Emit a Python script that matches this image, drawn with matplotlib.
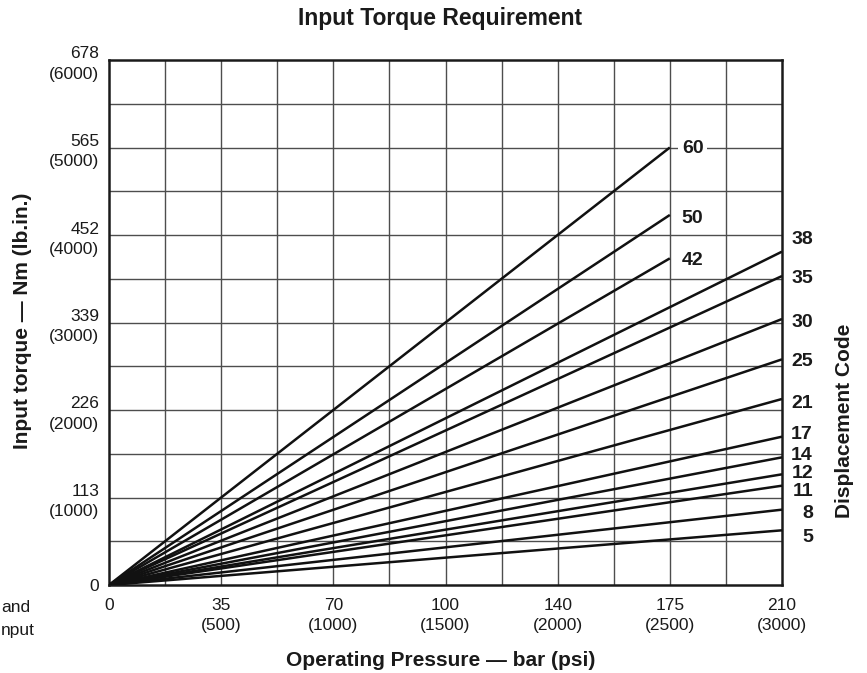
import matplotlib
matplotlib.use("Agg")
import matplotlib.pyplot as plt

# ---- data ----
codes = ["5", "8", "11", "12", "14", "17", "21", "25", "30", "35", "38", "42", "50", "60"]
end_pressure_psi = [3000, 3000, 3000, 3000, 3000, 3000, 3000, 3000, 3000, 3000, 3000, 2500, 2500, 2500]
end_torque_lbin = [625, 861, 1135, 1265, 1459, 1695, 2126, 2579, 3040, 3531, 3810, 3733, 4229, 5000]

x_tick_vals = [0, 500, 1000, 1500, 2000, 2500, 3000]
x_tick_labels = ["0", "35\n(500)", "70\n(1000)", "100\n(1500)", "140\n(2000)", "175\n(2500)", "210\n(3000)"]
y_tick_vals = [0, 1000, 2000, 3000, 4000, 5000, 6000]
y_tick_labels = ["0", "113\n(1000)", "226\n(2000)", "339\n(3000)", "452\n(4000)", "565\n(5000)", "678\n(6000)"]

# ---- layout (label placement, in axis data units) ----
label_y = {"5": 545, "8": 819, "11": 1074, "12": 1277, "14": 1478, "17": 1722, "21": 2069,
           "25": 2552, "30": 2998, "35": 3505, "38": 3943, "42": 3714, "50": 4191, "60": 4991}

plt.rcParams['font.family'] = ['Liberation Sans', 'DejaVu Sans']

W, H = 867, 673
fig = plt.figure(figsize=(W / 100, H / 100), dpi=100)
ax = fig.add_axes([109 / W, 1 - 585 / H, (782 - 109) / W, (585 - 60) / H])
ax.set_xlim(0, 3000)
ax.set_ylim(0, 6000)

# grid
for gx in range(250, 3000, 250):
    ax.axvline(gx, color="#4d4d4d", lw=1.0, zorder=1)
for gy in range(500, 6000, 500):
    ax.axhline(gy, color="#4d4d4d", lw=1.0, zorder=1)

for sp in ax.spines.values():
    sp.set_linewidth(1.8)
    sp.set_color("#1a1a1a")

# lines
for c, p, t in zip(codes, end_pressure_psi, end_torque_lbin):
    ax.plot([0, p], [0, t], color="#111111", lw=1.8, solid_capstyle="butt", zorder=3)
    if p == 3000:
        ax.annotate(c, xy=(3000, label_y[c]), xycoords="data", xytext=(31, 0),
                    textcoords="offset pixels", ha="right", va="center",
                    fontsize=14, fontweight="bold", color="#1a1a1a", annotation_clip=False)
    else:
        kw = {}
        if c == "60":
            kw["bbox"] = dict(boxstyle="square,pad=0.2", fc="white", ec="none")
        ax.annotate(c, xy=(p, label_y[c]), xycoords="data", xytext=(12, 0),
                    textcoords="offset pixels", ha="left", va="center",
                    fontsize=14, fontweight="bold", color="#1a1a1a", zorder=4, **kw)

ax.set_xticks(x_tick_vals)
ax.set_xticklabels(x_tick_labels, fontsize=12.5, color="#1a1a1a", linespacing=1.45)
ax.set_yticks(y_tick_vals)
ax.set_yticklabels(y_tick_labels, fontsize=12.5, color="#1a1a1a", linespacing=1.45,
                   multialignment="right")
ax.tick_params(axis="both", length=0)
ax.tick_params(axis="x", pad=9)
ax.tick_params(axis="y", pad=7)

# titles and axis labels
fig.text(440 / W, 1 - 18 / H, "Input Torque Requirement", ha="center", va="center",
         fontsize=16.5, fontweight="bold", color="#1a1a1a")
fig.text(441 / W, 1 - 661 / H, "Operating Pressure \u2014 bar (psi)", ha="center", va="center",
         fontsize=15, fontweight="bold", color="#1a1a1a")
fig.text(23 / W, 1 - 321 / H, "Input torque \u2014 Nm (lb.in.)", ha="center", va="center",
         rotation=90, fontsize=15, fontweight="bold", color="#1a1a1a")
fig.text(845 / W, 1 - 421 / H, "Displacement Code", ha="center", va="center",
         rotation=90, fontsize=15, fontweight="bold", color="#1a1a1a")

# stray text from neighbouring column at the left edge
fig.text(1 / W, 1 - 607 / H, "and", ha="left", va="center", fontsize=12.5, color="#1a1a1a")
fig.text(1 / W, 1 - 631 / H, "nput", ha="left", va="center", fontsize=12.5, color="#1a1a1a")

fig.savefig("out.png", dpi=100)
